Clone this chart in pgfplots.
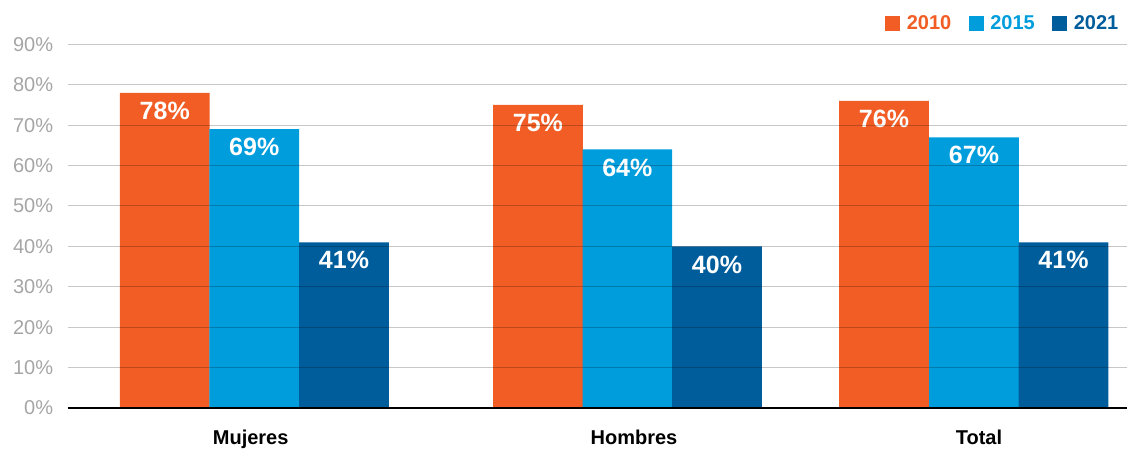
\documentclass[border=0pt]{standalone}
\usepackage{pgfplots}
\pgfplotsset{compat=1.18}
\usepackage{fontspec}
\setmainfont{Liberation Sans}
\definecolor{cA}{RGB}{241,93,36}
\definecolor{cB}{RGB}{0,157,221}
\definecolor{cC}{RGB}{0,93,156}
\definecolor{tickgray}{RGB}{165,165,165}
\begin{document}
\begin{tikzpicture}
\begin{axis}[
  /pgf/number format/assume math mode=true,
  x=1bp, y=4.04bp,
  xmin=67.7, xmax=1127, ymin=0, ymax=101,
  axis lines*=left,
  y axis line style={draw=none},
  x axis line style={line width=1.2bp, black},
  ytick={0,10,...,90},
  yticklabel={\pgfmathprintnumber{\tick}\%},
  yticklabel style={font=\fontsize{20bp}{24bp}\selectfont, text=tickgray, anchor=east, inner sep=0pt, xshift=-14.4bp},
  major tick length=0pt,
  xtick={250.7,634,979},
  xticklabels={Mujeres,Hombres,Total},
  xticklabel style={font=\fontsize{20bp}{24bp}\selectfont\bfseries, anchor=base, inner sep=0pt, yshift=-36bp},
  axis on top,
  nodes near coords={\pgfmathprintnumber{\pgfplotspointmeta}\%},
  nodes near coords style={font=\fontsize{25bp}{30bp}\selectfont\bfseries, text=white, anchor=north, inner sep=0pt, yshift=-9bp},
  legend columns=3,
  legend style={at={(1,1)}, anchor=north east, xshift=-6bp, yshift=-13bp, draw=none, fill=none, inner sep=0pt,
    font=\fontsize{20bp}{22bp}\selectfont\bfseries,
    nodes={inner sep=2.5bp},
    /tikz/every even column/.append style={column sep=15bp}},
]
\addplot[ybar, bar width=89.7, bar shift=0pt, fill=cA, draw=none,
  legend image code/.code={\fill[cA] (0bp,-7.5bp) rectangle (15bp,7.5bp); \path (19bp,0bp);}]
  coordinates {(164.75,78) (537.9,75) (884,76)};
\addlegendentry{\textcolor{cA}{2010}}
\addplot[ybar, bar width=89.7, bar shift=0pt, fill=cB, draw=none,
  legend image code/.code={\fill[cB] (0bp,-7.5bp) rectangle (15bp,7.5bp); \path (19bp,0bp);}]
  coordinates {(254.25,69) (627.35,64) (974,67)};
\addlegendentry{\textcolor{cB}{2015}}
\addplot[ybar, bar width=89.7, bar shift=0pt, fill=cC, draw=none,
  legend image code/.code={\fill[cC] (0bp,-7.5bp) rectangle (15bp,7.5bp); \path (19bp,0bp);}]
  coordinates {(344,41) (717,40) (1063.5,41)};
\addlegendentry{\textcolor{cC}{2021}}
\end{axis}
\foreach \i in {1,...,9} {
  \draw[black, opacity=0.22, line width=1bp] (0bp,\i*40.4bp) -- (1059.3bp,\i*40.4bp);
}
\pgfresetboundingbox
\path (-67.7bp,-41bp) rectangle (1059.3bp,408bp);
\end{tikzpicture}
\end{document}
